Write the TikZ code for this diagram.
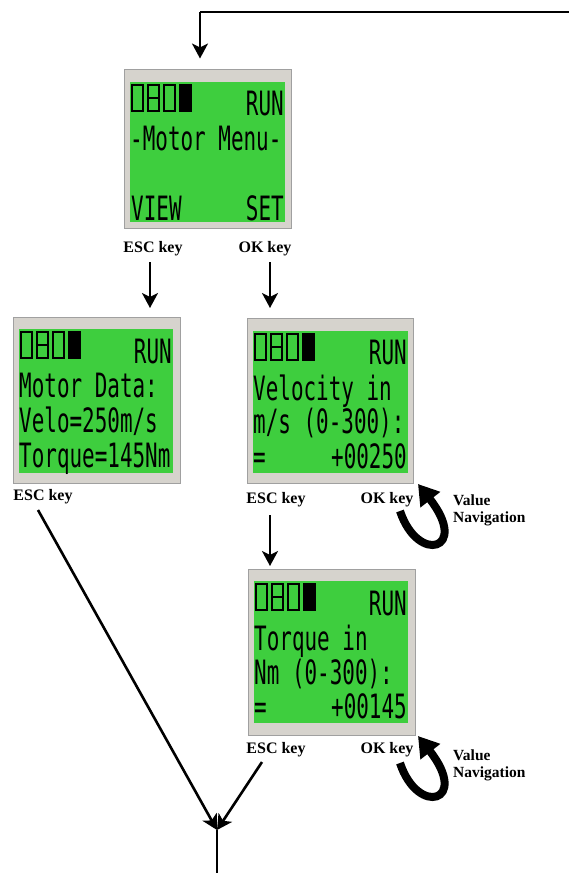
\documentclass[tikz,border=0pt]{standalone}
\usepackage{fontspec}
\usepackage{graphicx}
\setmainfont{Liberation Serif}
\newfontfamily\lcdfont{DejaVu Sans Mono}
\usetikzlibrary{arrows.meta,fit}
\definecolor{lcdgreen}{RGB}{62,206,62}
\definecolor{framegray}{RGB}{214,211,205}
\definecolor{frameedge}{RGB}{160,160,160}
\newcommand\lcdt[1]{\scalebox{0.625}[1]{\lcdfont\fontsize{33.5}{34}\selectfont #1}}
\tikzset{
  frame/.style={draw=frameedge, line width=1pt, fill=framegray, inner sep=0pt},
  lcd/.style={fill=lcdgreen},
  lcdtxt/.style={inner sep=0pt, text=black},
  keylabel/.style={inner sep=0pt, font=\bfseries\fontsize{16}{18}\selectfont, anchor=base},
  navlabel/.style={inner sep=0pt, font=\bfseries\fontsize{15.5}{18}\selectfont, anchor=base west, align=left},
  flow/.style={line width=2.6pt, -{Stealth[length=15pt,width=16pt,inset=4pt]}},
  plain/.style={line width=2.6pt},
  uturn/.style={line width=8pt, -{Triangle[length=20pt,width=24pt]}},
  icon/.style={draw=black, line width=2.2pt},
}
\newcommand\batt[2]{% x0 y0 : top-left of icon row
  \draw[icon] (#1+2,#2+3) rectangle (#1+13,#2+29);
  \draw[icon] (#1+18,#2+3) rectangle (#1+29,#2+29);
  \draw[icon] (#1+18,#2+16) -- (#1+29,#2+16);
  \draw[icon] (#1+34,#2+3) rectangle (#1+45,#2+29);
  \draw[icon, fill=black] (#1+50,#2+3) rectangle (#1+61,#2+29);
}
\begin{document}
\begin{tikzpicture}[x=1pt,y=-1pt]
\useasboundingbox (0,0) rectangle (569,873);

% ---------- screen 1 : Motor Menu ----------
\node[frame, fit={(124,69) (291,228)}] (s1) {};
\fill[lcd] (130,82) rectangle (285,222);
\batt{130}{82}
\node[lcdtxt, anchor=base east] (s1run) at (284,115) {\lcdt{RUN}};
\node[lcdtxt, anchor=base west] (s1l2) at (130,150) {\lcdt{-Motor Menu-}};
\node[lcdtxt, anchor=base west] (s1view) at (131,220) {\lcdt{VIEW}};
\node[lcdtxt, anchor=base east] (s1set) at (284,220) {\lcdt{SET}};
\node[keylabel] (esc1) at (153,252) {ESC key};
\node[keylabel] (ok1) at (265,252) {OK key};

% ---------- screen 2 : Motor Data ----------
\node[frame, fit={(13,317) (180,483)}] (s2) {};
\fill[lcd] (19,329) rectangle (173,473);
\batt{19}{329}
\node[lcdtxt, anchor=base east] (s2run) at (172,363) {\lcdt{RUN}};
\node[lcdtxt, anchor=base west] (s2l2) at (19,397) {\lcdt{Motor Data:}};
\node[lcdtxt, anchor=base west] (s2l3) at (19,432) {\lcdt{Velo=250m/s}};
\node[lcdtxt, anchor=base west] (s2l4) at (19,467) {\lcdt{Torque=145Nm}};
\node[keylabel] (esc2) at (43,500) {ESC key};

% ---------- screen 3 : Velocity ----------
\node[frame, fit={(247,318) (413,483)}] (s3) {};
\fill[lcd] (253,331) rectangle (408,473);
\batt{253}{331}
\node[lcdtxt, anchor=base east] (s3run) at (407,364) {\lcdt{RUN}};
\node[lcdtxt, anchor=base west] (s3l2) at (253,400) {\lcdt{Velocity in}};
\node[lcdtxt, anchor=base west] (s3l3) at (253,433) {\lcdt{m/s (0-300):}};
\node[lcdtxt, anchor=base west] (s3eq) at (253,468) {\lcdt{=}};
\node[lcdtxt, anchor=base east] (s3val) at (407,468) {\lcdt{+00250}};
\node[keylabel] (esc3) at (276,503) {ESC key};
\node[keylabel] (ok3) at (387,503) {OK key};
\node[navlabel] (nav3) at (453,522) {Value\\[-1pt]Navigation};

% ---------- screen 4 : Torque ----------
\node[frame, fit={(248,569) (415,735)}] (s4) {};
\fill[lcd] (254,581) rectangle (408,723);
\batt{254}{581}
\node[lcdtxt, anchor=base east] (s4run) at (407,615) {\lcdt{RUN}};
\node[lcdtxt, anchor=base west] (s4l2) at (254,650) {\lcdt{Torque in}};
\node[lcdtxt, anchor=base west] (s4l3) at (254,684) {\lcdt{Nm (0-300):}};
\node[lcdtxt, anchor=base west] (s4eq) at (254,718) {\lcdt{=}};
\node[lcdtxt, anchor=base east] (s4val) at (407,718) {\lcdt{+00145}};
\node[keylabel] (esc4) at (276,753) {ESC key};
\node[keylabel] (ok4) at (387,753) {OK key};
\node[navlabel] (nav4) at (453,777) {Value\\[-1pt]Navigation};

% ---------- connectors ----------
\coordinate (topR) at (569,12);
\coordinate (topC) at (200,12);
\coordinate (join) at (217,830);
\coordinate (out) at (217,873);

\draw[plain] (topR) -- (topC);
\draw[flow] (topC) -- (topC |- s1.north) [shorten >=10pt];
\draw[flow] (150,262) coordinate (a1) -- (150,308) coordinate (b1);
\draw[flow] (270,262) coordinate (a2) -- (270,308) coordinate (b2);
\draw[flow] (270,515) coordinate (a3) -- (270,566) coordinate (b3);

\coordinate (e2) at (38,510);
\coordinate (e4) at (262,762);
\draw[flow] (e2) -- (join);
\draw[flow] (e4) -- (join);
\draw[plain] (join) -- (out);

% value navigation u-turns
\draw[uturn] (400,511) .. controls (418,565) and (470,550) .. (418,484);
\draw[uturn] (400,763) .. controls (418,817) and (470,802) .. (418,736);
\end{tikzpicture}
\end{document}
